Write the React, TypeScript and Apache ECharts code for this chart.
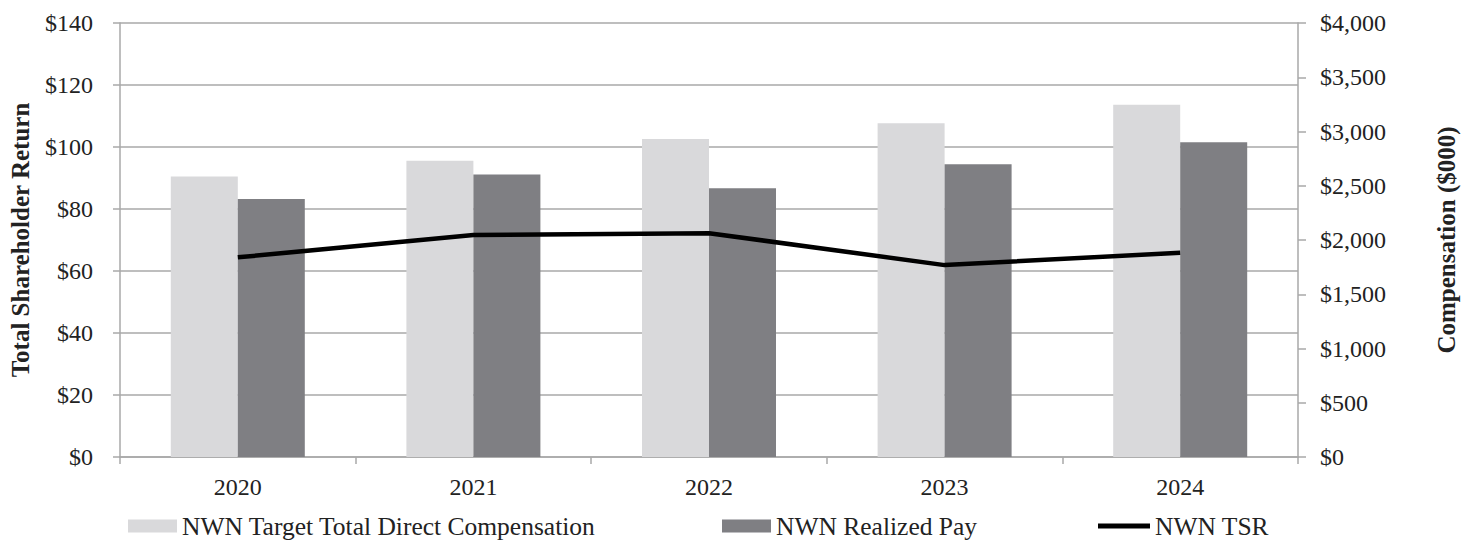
import React, { useEffect, useRef } from "react";
import * as echarts from "echarts";

const years = ["2020", "2021", "2022", "2023", "2024"];
// Compensation in $000
const targetTDC = [2585, 2730, 2930, 3077, 3246];
const realizedPay = [2379, 2603, 2478, 2699, 2902];
// Total shareholder return, $ value of initial investment
const tsr = [64.4, 71.6, 72.2, 61.9, 65.9];

const FONT = "Liberation Serif";
const TEXT = "#222222";
const AXIS = "#a8a8a8";
const LIGHT = "#d9d9db";
const DARK = "#7f7f83";

export default function App() {
  const ref = useRef<HTMLDivElement>(null);

  useEffect(() => {
    if (!ref.current) return;
    const chart = echarts.init(ref.current, undefined, { renderer: "svg" });
    const legendText = { fontFamily: FONT, fontSize: 25.5, color: TEXT, lineHeight: 24 };
    chart.setOption({
      animation: false,
      backgroundColor: "#ffffff",
      textStyle: { fontFamily: FONT },
      grid: {
        left: 120,
        right: 163,
        top: 23,
        bottom: 83,
        containLabel: false,
        outerBoundsMode: "none",
      },
      legend: [
        {
          left: 128,
          top: 513,
          padding: 0,
          data: [{ name: "NWN Target Total Direct Compensation", icon: "rect" }],
          itemWidth: 49,
          itemHeight: 13,
          itemGap: 0,
          textStyle: legendText,
        },
        {
          left: 722,
          top: 513,
          padding: 0,
          data: [{ name: "NWN Realized Pay", icon: "rect" }],
          itemWidth: 49,
          itemHeight: 13,
          itemGap: 0,
          textStyle: legendText,
        },
        {
          left: 1098,
          top: 513,
          padding: 0,
          data: [{ name: "NWN TSR", icon: "rect" }],
          itemWidth: 52,
          itemHeight: 5,
          itemGap: 0,
          textStyle: legendText,
        },
      ],
      xAxis: {
        type: "category",
        data: years,
        boundaryGap: true,
        axisLine: { lineStyle: { color: AXIS, width: 1.5 } },
        axisTick: { show: true, alignWithLabel: false, length: 7, lineStyle: { color: AXIS, width: 1.5 } },
        axisLabel: { color: TEXT, fontFamily: FONT, fontSize: 24, margin: 18 },
      },
      yAxis: [
        {
          type: "value",
          min: 0,
          max: 140,
          interval: 20,
          position: "left",
          name: "Total Shareholder Return",
          nameLocation: "middle",
          nameGap: 87,
          nameTextStyle: { color: TEXT, fontFamily: FONT, fontSize: 25, fontWeight: "bold" },
          axisLine: { show: true, lineStyle: { color: AXIS, width: 1.5 } },
          axisTick: { show: true, length: 7, lineStyle: { color: AXIS, width: 1.5 } },
          axisLabel: {
            color: TEXT,
            fontFamily: FONT,
            fontSize: 24,
            margin: 27,
            formatter: (v: number) => "$" + v,
          },
          splitLine: { show: true, lineStyle: { color: AXIS, width: 1.5 } },
        },
        {
          type: "value",
          min: 0,
          max: 4000,
          interval: 500,
          position: "right",
          name: "Compensation ($000)",
          nameLocation: "middle",
          nameGap: 136,
          nameRotate: 90,
          nameTextStyle: { color: TEXT, fontFamily: FONT, fontSize: 25, fontWeight: "bold" },
          axisLine: { show: true, lineStyle: { color: AXIS, width: 1.5 } },
          axisTick: { show: true, length: 8, lineStyle: { color: AXIS, width: 1.5 } },
          axisLabel: {
            color: TEXT,
            fontFamily: FONT,
            fontSize: 24,
            margin: 22,
            formatter: (v: number) => "$" + v.toLocaleString("en-US"),
          },
          splitLine: { show: false },
        },
      ],
      series: [
        {
          name: "NWN Target Total Direct Compensation",
          type: "bar",
          yAxisIndex: 1,
          data: targetTDC,
          barWidth: 67,
          barGap: "0%",
          itemStyle: { color: LIGHT },
        },
        {
          name: "NWN Realized Pay",
          type: "bar",
          yAxisIndex: 1,
          data: realizedPay,
          barWidth: 67,
          barGap: "0%",
          itemStyle: { color: DARK },
        },
        {
          name: "NWN TSR",
          type: "line",
          yAxisIndex: 0,
          data: tsr,
          symbol: "none",
          lineStyle: { color: "#000000", width: 4.5 },
          itemStyle: { color: "#000000" },
          z: 5,
        },
      ],
    });
    return () => chart.dispose();
  }, []);

  return (
    <div
      ref={ref}
      style={{ position: "fixed", left: 0, top: 0, width: 1461, height: 540 }}
    />
  );
}
